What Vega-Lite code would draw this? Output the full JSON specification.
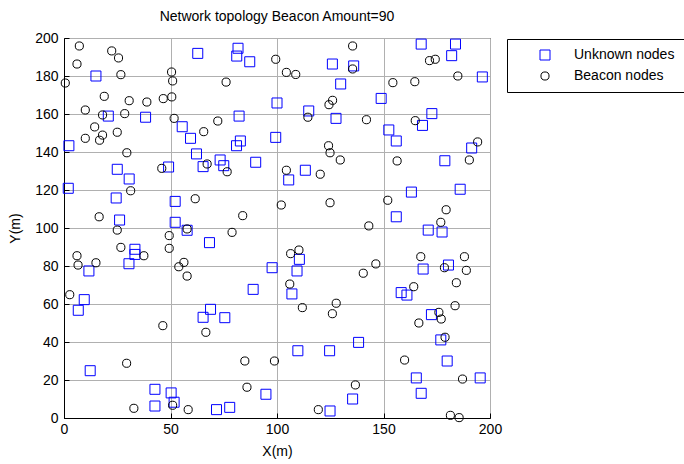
{
"$schema": "https://vega.github.io/schema/vega-lite/v6.json",
"width": 426, "height": 380,
"autosize": {"type": "none"},
"padding": {"left": 64, "top": 38, "right": 194, "bottom": 46},
"background": "white",
"title": {"text": "Network topology Beacon Amount=90", "font": "Liberation Sans", "fontSize": 14, "fontWeight": "normal", "color": "black", "anchor": "middle", "offset": 7},
"config": {
 "view": {"stroke": "black", "strokeWidth": 1},
 "axis": {"labelFont": "Liberation Sans", "labelFontSize": 14, "labelColor": "black", "labelFlush": false, "labelOverlap": false, "titleFont": "Liberation Sans", "titleFontSize": 14, "titleFontWeight": "normal", "titleColor": "black", "domainColor": "black", "tickColor": "black", "tickSize": -5, "gridColor": "#b0b0b0", "gridOpacity": 1, "gridWidth": 1},
 "legend": {"labelFont": "Liberation Sans", "labelFontSize": 14, "labelColor": "black"}
},
"data": {"values": [
{"x":62.8,"y":191.9,"node":"Unknown nodes"},{"x":15,"y":180,"node":"Unknown nodes"},{"x":20.8,"y":158.9,"node":"Unknown nodes"},{"x":38.3,"y":158.3,"node":"Unknown nodes"},{"x":2.3,"y":143.3,"node":"Unknown nodes"},{"x":55.5,"y":153.3,"node":"Unknown nodes"},{"x":59.4,"y":147.2,"node":"Unknown nodes"},{"x":62.2,"y":139,"node":"Unknown nodes"},{"x":81.7,"y":194.6,"node":"Unknown nodes"},{"x":81.1,"y":190.5,"node":"Unknown nodes"},
{"x":87.2,"y":187.5,"node":"Unknown nodes"},{"x":126,"y":186.3,"node":"Unknown nodes"},{"x":129.9,"y":175.8,"node":"Unknown nodes"},{"x":100,"y":165.8,"node":"Unknown nodes"},{"x":114.9,"y":161.6,"node":"Unknown nodes"},{"x":127.7,"y":157.7,"node":"Unknown nodes"},{"x":82.2,"y":158.9,"node":"Unknown nodes"},{"x":99.4,"y":147.7,"node":"Unknown nodes"},{"x":82.8,"y":145.8,"node":"Unknown nodes"},{"x":81,"y":143.3,"node":"Unknown nodes"},
{"x":73.3,"y":135.8,"node":"Unknown nodes"},{"x":75,"y":132.8,"node":"Unknown nodes"},{"x":90,"y":134.6,"node":"Unknown nodes"},{"x":167.7,"y":196.8,"node":"Unknown nodes"},{"x":183.8,"y":196.8,"node":"Unknown nodes"},{"x":182,"y":190.7,"node":"Unknown nodes"},{"x":136,"y":185.3,"node":"Unknown nodes"},{"x":196.4,"y":179.5,"node":"Unknown nodes"},{"x":148.9,"y":168.2,"node":"Unknown nodes"},{"x":172.7,"y":160.2,"node":"Unknown nodes"},
{"x":168.3,"y":154,"node":"Unknown nodes"},{"x":152.5,"y":151.6,"node":"Unknown nodes"},{"x":156,"y":145.8,"node":"Unknown nodes"},{"x":191.4,"y":142.1,"node":"Unknown nodes"},{"x":178.8,"y":135.4,"node":"Unknown nodes"},{"x":49.1,"y":132.1,"node":"Unknown nodes"},{"x":25,"y":130.9,"node":"Unknown nodes"},{"x":30.6,"y":125.8,"node":"Unknown nodes"},{"x":2,"y":120.9,"node":"Unknown nodes"},{"x":24.5,"y":115.8,"node":"Unknown nodes"},
{"x":52.2,"y":114,"node":"Unknown nodes"},{"x":26.1,"y":104.2,"node":"Unknown nodes"},{"x":52.2,"y":103,"node":"Unknown nodes"},{"x":57.8,"y":98.8,"node":"Unknown nodes"},{"x":33.3,"y":88.8,"node":"Unknown nodes"},{"x":33.3,"y":86.1,"node":"Unknown nodes"},{"x":30.5,"y":81.2,"node":"Unknown nodes"},{"x":11.7,"y":77.4,"node":"Unknown nodes"},{"x":65.3,"y":132.3,"node":"Unknown nodes"},{"x":113.3,"y":130.4,"node":"Unknown nodes"},
{"x":105.5,"y":125.3,"node":"Unknown nodes"},{"x":68.3,"y":92.3,"node":"Unknown nodes"},{"x":110.5,"y":83.5,"node":"Unknown nodes"},{"x":97.7,"y":79.1,"node":"Unknown nodes"},{"x":109.4,"y":77.4,"node":"Unknown nodes"},{"x":163.1,"y":118.9,"node":"Unknown nodes"},{"x":186,"y":120.4,"node":"Unknown nodes"},{"x":156,"y":105.9,"node":"Unknown nodes"},{"x":171,"y":98.9,"node":"Unknown nodes"},{"x":177.5,"y":97.9,"node":"Unknown nodes"},
{"x":168.6,"y":78.4,"node":"Unknown nodes"},{"x":180.5,"y":80.5,"node":"Unknown nodes"},{"x":9.5,"y":62.3,"node":"Unknown nodes"},{"x":6.7,"y":56.7,"node":"Unknown nodes"},{"x":12.3,"y":24.9,"node":"Unknown nodes"},{"x":42.7,"y":15.1,"node":"Unknown nodes"},{"x":50.3,"y":13.2,"node":"Unknown nodes"},{"x":51.7,"y":8.3,"node":"Unknown nodes"},{"x":42.7,"y":6.3,"node":"Unknown nodes"},{"x":88.8,"y":67.7,"node":"Unknown nodes"},
{"x":107,"y":65.3,"node":"Unknown nodes"},{"x":68.8,"y":57.2,"node":"Unknown nodes"},{"x":65.3,"y":53,"node":"Unknown nodes"},{"x":75.5,"y":52.8,"node":"Unknown nodes"},{"x":109.8,"y":35.4,"node":"Unknown nodes"},{"x":124.7,"y":35.4,"node":"Unknown nodes"},{"x":94.8,"y":12.5,"node":"Unknown nodes"},{"x":71.6,"y":4.4,"node":"Unknown nodes"},{"x":77.8,"y":5.6,"node":"Unknown nodes"},{"x":124.9,"y":3.7,"node":"Unknown nodes"},
{"x":158.3,"y":66,"node":"Unknown nodes"},{"x":161,"y":64.7,"node":"Unknown nodes"},{"x":172.5,"y":54.4,"node":"Unknown nodes"},{"x":176.9,"y":41.1,"node":"Unknown nodes"},{"x":138.3,"y":39.8,"node":"Unknown nodes"},{"x":179.9,"y":30,"node":"Unknown nodes"},{"x":165.4,"y":21.1,"node":"Unknown nodes"},{"x":195.4,"y":21.1,"node":"Unknown nodes"},{"x":167.7,"y":13,"node":"Unknown nodes"},{"x":135.5,"y":10,"node":"Unknown nodes"},
{"x":7.2,"y":195.8,"node":"Beacon nodes"},{"x":22.4,"y":193.2,"node":"Beacon nodes"},{"x":25.6,"y":189.5,"node":"Beacon nodes"},{"x":6.1,"y":186.3,"node":"Beacon nodes"},{"x":26.7,"y":180.7,"node":"Beacon nodes"},{"x":0.6,"y":176.3,"node":"Beacon nodes"},{"x":50.5,"y":182.1,"node":"Beacon nodes"},{"x":51,"y":177.4,"node":"Beacon nodes"},{"x":18.9,"y":169.3,"node":"Beacon nodes"},{"x":30.6,"y":167,"node":"Beacon nodes"},
{"x":38.9,"y":166.3,"node":"Beacon nodes"},{"x":46.6,"y":168.1,"node":"Beacon nodes"},{"x":50.6,"y":169,"node":"Beacon nodes"},{"x":10,"y":162.1,"node":"Beacon nodes"},{"x":18.1,"y":159.5,"node":"Beacon nodes"},{"x":28.5,"y":160.2,"node":"Beacon nodes"},{"x":51.7,"y":157.7,"node":"Beacon nodes"},{"x":14.4,"y":153.2,"node":"Beacon nodes"},{"x":18.1,"y":148.9,"node":"Beacon nodes"},{"x":10,"y":147.2,"node":"Beacon nodes"},
{"x":16.7,"y":146.2,"node":"Beacon nodes"},{"x":25,"y":150.4,"node":"Beacon nodes"},{"x":29.5,"y":139.6,"node":"Beacon nodes"},{"x":65.6,"y":150.7,"node":"Beacon nodes"},{"x":99.4,"y":188.8,"node":"Beacon nodes"},{"x":104.4,"y":181.9,"node":"Beacon nodes"},{"x":108.8,"y":180.8,"node":"Beacon nodes"},{"x":76.1,"y":176.8,"node":"Beacon nodes"},{"x":126.1,"y":167.2,"node":"Beacon nodes"},{"x":124.4,"y":164.9,"node":"Beacon nodes"},
{"x":114.5,"y":158.3,"node":"Beacon nodes"},{"x":72.2,"y":156.3,"node":"Beacon nodes"},{"x":124.2,"y":143.3,"node":"Beacon nodes"},{"x":124.9,"y":139.6,"node":"Beacon nodes"},{"x":129.7,"y":135.8,"node":"Beacon nodes"},{"x":135.5,"y":195.8,"node":"Beacon nodes"},{"x":171.6,"y":188.1,"node":"Beacon nodes"},{"x":174.3,"y":188.8,"node":"Beacon nodes"},{"x":135.5,"y":183.7,"node":"Beacon nodes"},{"x":154.4,"y":176.5,"node":"Beacon nodes"},
{"x":164.7,"y":177,"node":"Beacon nodes"},{"x":184.9,"y":180,"node":"Beacon nodes"},{"x":142,"y":157,"node":"Beacon nodes"},{"x":164.9,"y":156.5,"node":"Beacon nodes"},{"x":194.2,"y":145.3,"node":"Beacon nodes"},{"x":156.4,"y":135.3,"node":"Beacon nodes"},{"x":190.3,"y":135.8,"node":"Beacon nodes"},{"x":45.9,"y":131.4,"node":"Beacon nodes"},{"x":31.3,"y":119.6,"node":"Beacon nodes"},{"x":16.5,"y":105.9,"node":"Beacon nodes"},
{"x":25,"y":98.9,"node":"Beacon nodes"},{"x":61.6,"y":115.4,"node":"Beacon nodes"},{"x":49.4,"y":96,"node":"Beacon nodes"},{"x":57.8,"y":99.5,"node":"Beacon nodes"},{"x":26.7,"y":89.8,"node":"Beacon nodes"},{"x":37.5,"y":85.4,"node":"Beacon nodes"},{"x":49.4,"y":89.3,"node":"Beacon nodes"},{"x":6.1,"y":85.4,"node":"Beacon nodes"},{"x":6.6,"y":80.5,"node":"Beacon nodes"},{"x":15,"y":81.7,"node":"Beacon nodes"},
{"x":56.3,"y":81.9,"node":"Beacon nodes"},{"x":53.9,"y":79.6,"node":"Beacon nodes"},{"x":57.8,"y":74.7,"node":"Beacon nodes"},{"x":67.2,"y":133.7,"node":"Beacon nodes"},{"x":76.6,"y":129.6,"node":"Beacon nodes"},{"x":104.4,"y":130.4,"node":"Beacon nodes"},{"x":120.3,"y":128.3,"node":"Beacon nodes"},{"x":102,"y":112.1,"node":"Beacon nodes"},{"x":124.9,"y":113.3,"node":"Beacon nodes"},{"x":83.9,"y":106.5,"node":"Beacon nodes"},
{"x":78.9,"y":97.7,"node":"Beacon nodes"},{"x":106.4,"y":86.5,"node":"Beacon nodes"},{"x":110.3,"y":88.4,"node":"Beacon nodes"},{"x":106,"y":70.5,"node":"Beacon nodes"},{"x":152,"y":114.6,"node":"Beacon nodes"},{"x":179.4,"y":109.6,"node":"Beacon nodes"},{"x":176.9,"y":103,"node":"Beacon nodes"},{"x":143.1,"y":101.1,"node":"Beacon nodes"},{"x":167.5,"y":84.9,"node":"Beacon nodes"},{"x":188,"y":84.9,"node":"Beacon nodes"},
{"x":146.4,"y":81.1,"node":"Beacon nodes"},{"x":140.5,"y":76.2,"node":"Beacon nodes"},{"x":178.6,"y":79.1,"node":"Beacon nodes"},{"x":188.9,"y":77.7,"node":"Beacon nodes"},{"x":184.2,"y":71.2,"node":"Beacon nodes"},{"x":2.7,"y":64.9,"node":"Beacon nodes"},{"x":46.4,"y":48.6,"node":"Beacon nodes"},{"x":29.4,"y":28.8,"node":"Beacon nodes"},{"x":32.8,"y":5.1,"node":"Beacon nodes"},{"x":51,"y":6.7,"node":"Beacon nodes"},
{"x":58.3,"y":4.4,"node":"Beacon nodes"},{"x":111.9,"y":58.1,"node":"Beacon nodes"},{"x":127.8,"y":60.4,"node":"Beacon nodes"},{"x":126,"y":54.9,"node":"Beacon nodes"},{"x":66.6,"y":45.1,"node":"Beacon nodes"},{"x":84.9,"y":30,"node":"Beacon nodes"},{"x":98.8,"y":30,"node":"Beacon nodes"},{"x":85.9,"y":16.2,"node":"Beacon nodes"},{"x":119.4,"y":4.4,"node":"Beacon nodes"},{"x":164.2,"y":69.1,"node":"Beacon nodes"},
{"x":183.6,"y":59.1,"node":"Beacon nodes"},{"x":176,"y":55.6,"node":"Beacon nodes"},{"x":177.1,"y":52.1,"node":"Beacon nodes"},{"x":166.6,"y":50,"node":"Beacon nodes"},{"x":178.9,"y":42.5,"node":"Beacon nodes"},{"x":159.9,"y":30.5,"node":"Beacon nodes"},{"x":136.8,"y":17.4,"node":"Beacon nodes"},{"x":187.1,"y":20.5,"node":"Beacon nodes"},{"x":181.4,"y":1.4,"node":"Beacon nodes"},{"x":185.5,"y":0.2,"node":"Beacon nodes"}
]},
"mark": {"type": "point", "filled": false, "strokeWidth": 1, "opacity": 1},
"encoding": {
 "x": {"field": "x", "type": "quantitative", "scale": {"domain": [0, 200], "nice": false, "zero": false}, "axis": {"values": [0, 50, 100, 150, 200], "title": "X(m)", "labelPadding": 9, "titlePadding": 8}},
 "y": {"field": "y", "type": "quantitative", "scale": {"domain": [0, 200], "nice": false, "zero": false}, "axis": {"values": [0, 20, 40, 60, 80, 100, 120, 140, 160, 180, 200], "title": "Y(m)", "labelPadding": 11, "titlePadding": 12}},
 "color": {"field": "node", "type": "nominal", "scale": {"domain": ["Unknown nodes", "Beacon nodes"], "range": ["#0000ff", "#000000"]},
   "legend": {"title": null, "orient": "none", "legendX": 443, "legendY": 1, "strokeColor": "black", "fillColor": "white", "padding": 9, "symbolOffset": 22, "labelOffset": 22, "rowPadding": 7, "symbolSize": 64, "symbolStrokeWidth": 1, "cornerRadius": 0}},
 "shape": {"field": "node", "type": "nominal", "scale": {"domain": ["Unknown nodes", "Beacon nodes"], "range": ["square", "circle"]},
   "legend": {"title": null, "orient": "none", "legendX": 443, "legendY": 1, "strokeColor": "black", "fillColor": "white", "padding": 9, "symbolOffset": 22, "labelOffset": 22, "rowPadding": 7, "symbolSize": 64, "symbolStrokeWidth": 1, "cornerRadius": 0}},
 "size": {"field": "node", "type": "nominal", "scale": {"domain": ["Unknown nodes", "Beacon nodes"], "range": [100, 66]}, "legend": null}
}
}
